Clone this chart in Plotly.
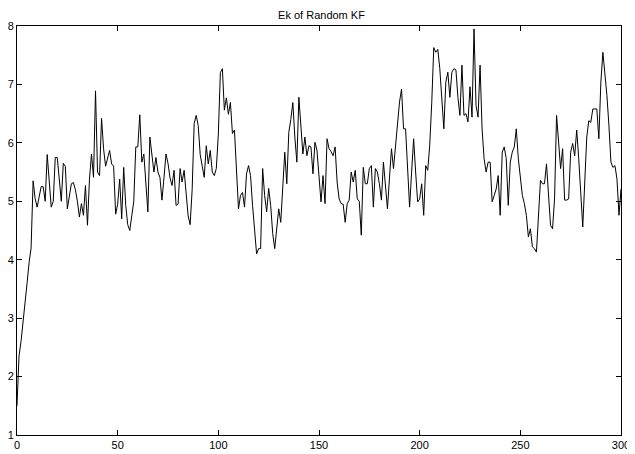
import plotly.graph_objects as go

ek_values = [
    1.5, 2.35, 2.6, 2.9, 3.25, 3.6, 3.95, 4.2, 5.35, 5.05,
    4.9, 5.1, 5.25, 5.25, 5.0, 5.8, 5.3, 4.9, 5.0, 5.75,
    5.75, 5.4, 5.0, 5.65, 5.6, 4.87, 5.1, 5.3, 5.32, 5.2,
    5.0, 4.73, 4.96, 4.76, 5.27, 4.59, 5.38, 5.81, 5.41, 6.89,
    5.5, 5.44, 6.42, 5.9, 5.6, 5.75, 5.87, 5.64, 5.6, 4.78,
    4.95, 5.38, 4.7, 5.58, 4.93, 4.6, 4.5, 4.75, 5.0, 5.93,
    5.93, 6.48, 5.67, 5.81, 5.3, 4.82, 6.1, 5.8, 5.5, 5.75,
    5.5, 5.41, 5.02, 5.4, 5.81, 5.65, 5.4, 5.27, 5.53, 4.93,
    4.95, 5.56, 5.33, 5.53, 5.1, 4.75, 4.6, 5.2, 6.33, 6.47,
    6.3, 5.8, 5.6, 5.41, 5.95, 5.64, 5.87, 5.5, 5.44, 5.56,
    6.15, 7.2, 7.27, 6.56, 6.77, 6.49, 6.69, 6.16, 6.22, 5.5,
    4.87, 5.1, 5.15, 4.9, 5.47, 5.61, 5.44, 4.93, 4.5, 4.1,
    4.19, 4.19, 5.56, 5.1, 4.82, 5.22, 4.93, 4.45, 4.19, 4.6,
    4.87, 4.64, 5.3, 5.84, 5.3, 6.18, 6.4, 6.69, 6.1, 5.67,
    6.78, 6.24, 5.81, 6.1, 5.78, 5.95, 5.93, 5.47, 6.01, 5.87,
    5.38, 4.99, 5.44, 4.96, 6.07, 5.9, 5.85, 5.78, 5.93, 5.33,
    5.04, 4.96, 4.95, 4.64, 4.96, 5.02, 5.5, 5.33, 5.53, 5.04,
    5.0, 4.42, 5.58, 5.3, 5.3, 5.56, 5.61, 4.9, 5.56, 5.5,
    5.3, 5.02, 5.67, 5.21, 4.87, 5.4, 5.9, 5.56, 5.96, 6.41,
    6.7, 6.92, 6.24, 6.24, 5.61, 4.9, 5.5, 6.07, 5.5, 4.99,
    5.04, 5.3, 4.76, 5.61, 5.53, 5.96, 6.69, 7.63, 7.55, 7.6,
    7.27, 6.64, 6.24, 7.04, 7.21, 6.78, 7.21, 7.27, 7.25, 6.78,
    6.47, 7.33, 6.47, 6.5, 6.36, 6.96, 6.44, 7.95, 6.64, 6.44,
    7.33, 6.24, 5.73, 5.5, 5.67, 5.67, 4.99, 5.1, 5.21, 5.44,
    4.76, 5.84, 5.93, 5.73, 4.93, 5.67, 5.84, 5.93, 6.24, 5.73,
    5.38, 5.1, 4.96, 4.76, 4.39, 4.53, 4.22, 4.19, 4.13, 4.7,
    5.36, 5.3, 5.3, 5.64, 5.1, 4.59, 4.53, 5.04, 6.47, 5.96,
    5.56, 5.9, 5.02, 5.02, 5.04, 5.84, 5.99, 5.78, 6.22, 5.73,
    5.16, 4.56, 5.33, 6.1, 6.38, 6.35, 6.58, 6.58, 6.58, 6.07,
    7.04, 7.55, 7.21, 6.81, 6.3, 5.67, 5.58, 5.61, 5.38, 4.76,
    5.21,
]
steps = list(range(len(ek_values)))

x_ticks = [0, 50, 100, 150, 200, 250, 300]
y_ticks = [1, 2, 3, 4, 5, 6, 7, 8]
title_text = "Ek of Random KF"

fig = go.Figure()
fig.add_trace(go.Scatter(x=steps, y=ek_values, mode="lines",
                         line=dict(color="black", width=1), showlegend=False,
                         hoverinfo="skip"))

axis_common = dict(showline=True, linecolor="black", linewidth=1, mirror="ticks",
                   ticks="inside", ticklen=5, tickcolor="black", showgrid=False,
                   zeroline=False, automargin=False,
                   tickfont=dict(family="Liberation Sans, Arial, sans-serif",
                                 size=11, color="black"))

# page body has an 8px margin, so the figure is sized 8px smaller
fig.update_layout(
    width=627, height=446,
    margin=dict(l=9, r=14, t=18, b=19, autoexpand=False),
    paper_bgcolor="white", plot_bgcolor="white",
    title=dict(text=title_text, x=0.5, xanchor="center", y=0.992, yanchor="top",
               pad=dict(t=0, b=0),
               font=dict(family="Liberation Sans, Arial, sans-serif", size=11, color="black")),
    xaxis=dict(range=[0, 300], tickvals=x_ticks, **axis_common),
    yaxis=dict(range=[1, 8], tickvals=y_ticks, **axis_common),
)

fig.write_html("out.html")
